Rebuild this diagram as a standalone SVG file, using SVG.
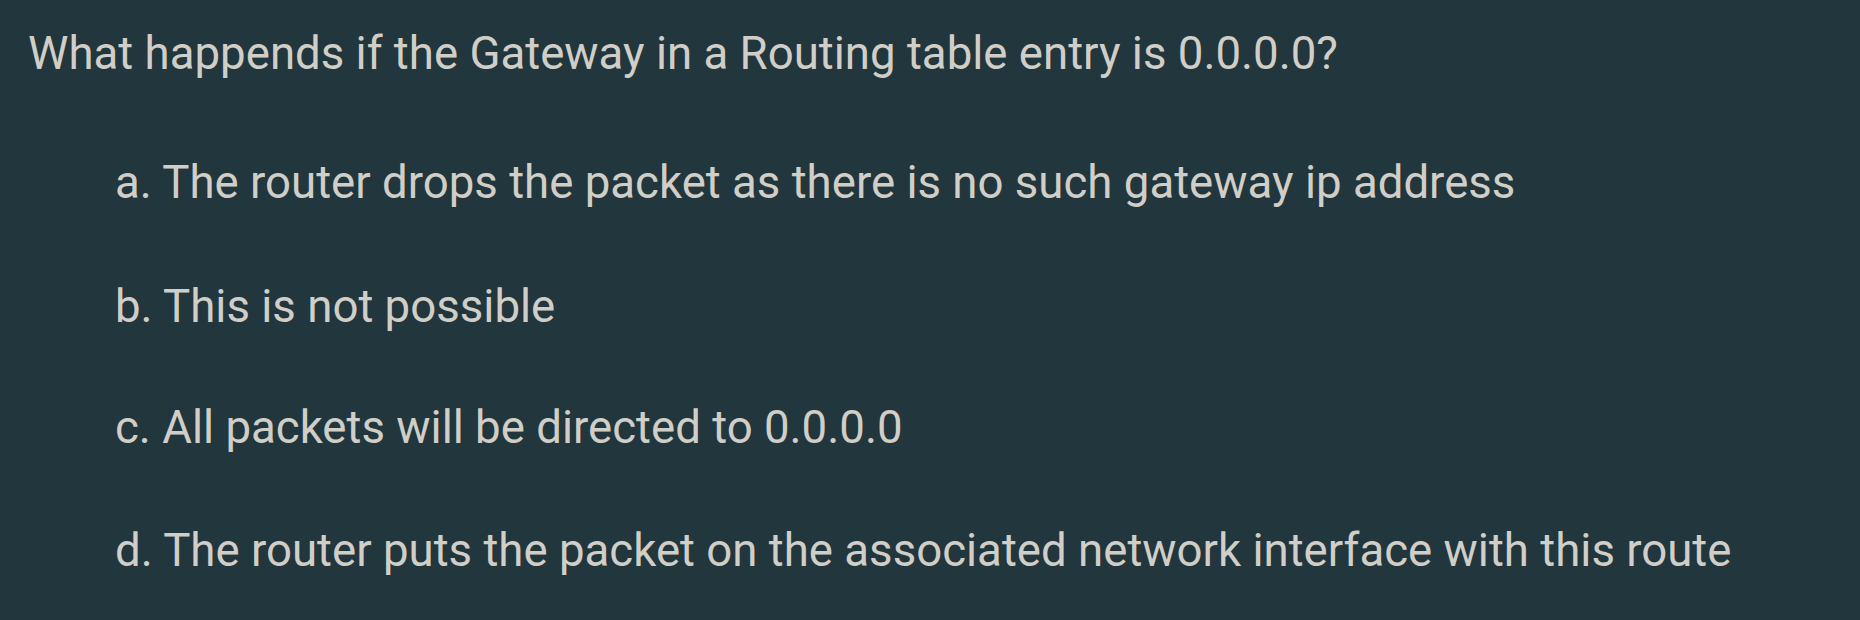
<svg xmlns="http://www.w3.org/2000/svg" width="1860" height="620" viewBox="0 0 1860 620">
<style>
text { font-family: Roboto, "Liberation Sans", sans-serif; font-size: 45.6px; fill: #D0CEC7; }
</style>
<rect width="1860" height="620" fill="#22363D"/>
<g id="question"><text x="28" y="69">What happends if the Gateway in a Routing table entry is 0.0.0.0?</text></g>
<g id="option-a"><text x="115" y="198">a. The router drops the packet as there is no such gateway ip address</text></g>
<g id="option-b"><text x="115" y="322">b. This is not possible</text></g>
<g id="option-c"><text x="115" y="443">c. All packets will be directed to 0.0.0.0</text></g>
<g id="option-d"><text x="115" y="566">d. The router puts the packet on the associated network interface with this route</text></g>
</svg>
